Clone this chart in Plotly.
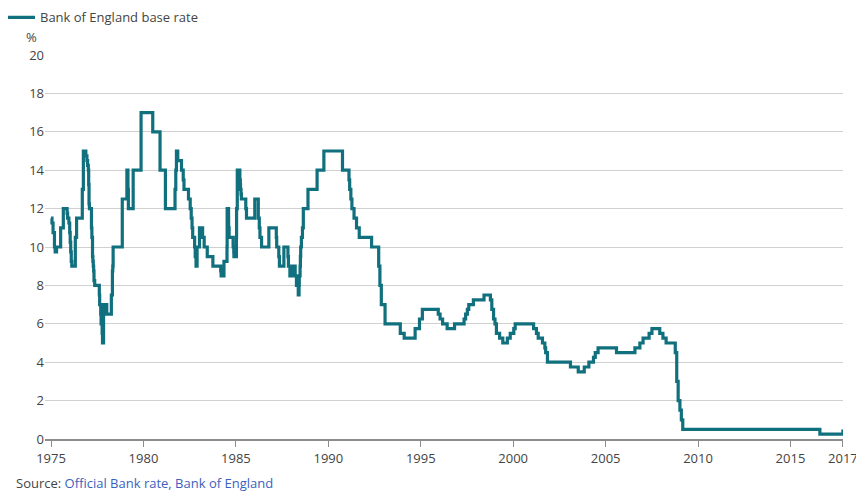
import plotly.graph_objects as go

# Bank of England base rate, change dates and new rate (%)
change_dates = [
    "1975-01-01", "1975-01-20", "1975-02-10", "1975-03-10", "1975-03-24", "1975-04-20",
    "1975-07-10", "1975-09-01", "1975-11-15", "1975-11-25", "1975-12-20", "1976-01-05",
    "1976-01-15", "1976-01-25", "1976-02-05", "1976-02-15", "1976-04-25", "1976-05-20",
    "1976-09-10", "1976-10-01", "1976-11-19", "1976-12-10", "1976-12-24", "1977-01-07",
    "1977-01-14", "1977-01-21", "1977-01-28", "1977-03-10", "1977-03-18", "1977-03-31",
    "1977-04-07", "1977-04-15", "1977-04-22", "1977-04-29", "1977-05-13", "1977-08-12",
    "1977-08-19", "1977-09-09", "1977-09-16", "1977-10-07", "1977-10-14", "1977-11-04",
    "1978-01-06", "1978-04-07", "1978-04-28", "1978-05-05", "1978-05-12", "1978-11-09",
    "1979-02-08", "1979-03-01", "1979-03-09", "1979-06-12", "1979-11-15", "1980-07-03",
    "1980-11-24", "1981-03-10", "1981-09-16", "1981-10-01", "1981-10-14", "1981-11-09",
    "1982-01-22", "1982-02-25", "1982-03-12", "1982-06-09", "1982-07-13", "1982-08-02",
    "1982-08-18", "1982-08-31", "1982-10-08", "1982-10-20", "1982-11-05", "1982-11-26",
    "1983-01-12", "1983-03-15", "1983-04-15", "1983-06-15", "1983-10-04", "1984-03-07",
    "1984-03-15", "1984-05-10", "1984-07-09", "1984-07-12", "1984-08-09", "1984-08-10",
    "1984-08-20", "1984-11-07", "1984-11-20", "1984-11-23", "1985-01-11", "1985-01-14",
    "1985-01-28", "1985-03-20", "1985-03-29", "1985-04-02", "1985-04-12", "1985-04-19",
    "1985-07-15", "1985-07-29", "1986-01-09", "1986-03-19", "1986-04-08", "1986-04-21",
    "1986-05-23", "1986-10-14", "1987-03-10", "1987-03-18", "1987-04-28", "1987-05-11",
    "1987-08-07", "1987-10-26", "1987-11-05", "1987-12-04", "1988-02-02", "1988-03-17",
    "1988-04-11", "1988-05-17", "1988-06-02", "1988-06-06", "1988-06-22", "1988-06-28",
    "1988-07-04", "1988-07-18", "1988-08-08", "1988-08-25", "1988-11-25", "1989-05-24",
    "1989-10-05", "1990-10-08", "1991-02-13", "1991-02-27", "1991-03-22", "1991-04-12",
    "1991-05-24", "1991-07-12", "1991-09-04", "1992-05-05", "1992-09-22", "1992-10-16",
    "1992-11-13", "1993-01-26", "1993-11-23", "1994-02-08", "1994-09-12", "1994-12-07",
    "1995-02-02", "1995-12-13", "1996-01-18", "1996-03-08", "1996-06-06", "1996-10-30",
    "1997-05-06", "1997-06-06", "1997-07-10", "1997-08-07", "1997-11-06", "1998-06-04",
    "1998-10-08", "1998-11-05", "1998-12-10", "1999-01-07", "1999-02-04", "1999-04-08",
    "1999-06-10", "1999-09-08", "1999-11-04", "2000-01-13", "2000-02-10", "2001-02-08",
    "2001-04-05", "2001-05-10", "2001-08-02", "2001-09-18", "2001-10-04", "2001-11-08",
    "2003-02-06", "2003-07-10", "2003-11-06", "2004-02-05", "2004-05-06", "2004-06-10",
    "2004-08-05", "2005-08-04", "2006-08-03", "2006-11-09", "2007-01-11", "2007-05-10",
    "2007-07-05", "2007-12-06", "2008-02-07", "2008-04-10", "2008-10-08", "2008-11-06",
    "2008-12-04", "2009-01-08", "2009-02-05", "2009-03-05", "2016-08-04", "2017-11-02",
]
base_rate = [
    11.5, 11.25, 10.75, 10.0, 9.75, 10.0,
    11.0, 12.0, 11.75, 11.5, 11.25, 10.75,
    10.25, 9.75, 9.25, 9.0, 10.5, 11.5,
    13.0, 15.0, 14.75, 14.5, 14.25, 14.0,
    13.25, 12.25, 12.0, 11.0, 10.5, 9.5,
    9.25, 9.0, 8.75, 8.25, 8.0, 7.5,
    7.0, 6.5, 6.0, 5.5, 5.0, 7.0,
    6.5, 7.5, 8.75, 9.0, 10.0, 12.5,
    14.0, 13.0, 12.0, 14.0, 17.0, 16.0,
    14.0, 12.0, 13.0, 14.0, 15.0, 14.5,
    14.0, 13.5, 13.0, 12.5, 12.0, 11.5,
    11.0, 10.5, 10.0, 9.5, 9.0, 10.0,
    11.0, 10.5, 10.0, 9.5, 9.0, 8.75,
    8.5, 9.25, 10.0, 12.0, 11.5, 11.0,
    10.5, 10.0, 9.75, 9.5, 10.5, 12.0,
    14.0, 13.5, 13.25, 13.0, 12.75, 12.5,
    12.0, 11.5, 12.5, 11.5, 11.0, 10.5,
    10.0, 11.0, 10.5, 10.0, 9.5, 9.0,
    10.0, 9.5, 9.0, 8.5, 9.0, 8.5,
    8.0, 7.5, 8.0, 8.5, 9.0, 9.5,
    10.0, 10.5, 11.0, 12.0, 13.0, 14.0,
    15.0, 14.0, 13.5, 13.0, 12.5, 12.0,
    11.5, 11.0, 10.5, 10.0, 9.0, 8.0,
    7.0, 6.0, 5.5, 5.25, 5.75, 6.25,
    6.75, 6.5, 6.25, 6.0, 5.75, 6.0,
    6.25, 6.5, 6.75, 7.0, 7.25, 7.5,
    7.25, 6.75, 6.25, 6.0, 5.5, 5.25,
    5.0, 5.25, 5.5, 5.75, 6.0, 5.75,
    5.5, 5.25, 5.0, 4.75, 4.5, 4.0,
    3.75, 3.5, 3.75, 4.0, 4.25, 4.5,
    4.75, 4.5, 4.75, 5.0, 5.25, 5.5,
    5.75, 5.5, 5.25, 5.0, 4.5, 3.0,
    2.0, 1.5, 1.0, 0.5, 0.25, 0.5,
]

tick_dates = ["1975-01-01", "1980-01-01", "1985-01-01", "1990-01-01", "1995-01-01",
              "2000-01-01", "2005-01-01", "2010-01-01", "2015-01-01", "2017-11-02"]
tick_labels = ["1975", "1980", "1985", "1990", "1995", "2000", "2005", "2010", "2015", "2017"]

teal = "#11707e"
text_col = "#444444"

fig = go.Figure()
fig.add_trace(go.Scatter(
    x=change_dates, y=base_rate,
    mode="lines", line=dict(color=teal, width=3.2, shape="hv"),
    name="Bank of England base rate",
))

# the page body adds 8px, so margins are set 8px short on left/top
fig.update_layout(
    width=864, height=495,
    margin=dict(l=37, r=29, t=47, b=64, autoexpand=False),
    plot_bgcolor="white", paper_bgcolor="white",
    font=dict(family="Open Sans", size=13, color=text_col),
    showlegend=True,
    legend=dict(x=-0.0564, y=1.137, xanchor="left", yanchor="top",
                orientation="h", font=dict(size=13, color=text_col),
                bgcolor="rgba(0,0,0,0)"),
)

fig.update_xaxes(
    type="date", range=["1974-09-04", "2017-11-04"],
    tickmode="array", tickvals=tick_dates, ticktext=tick_labels,
    showgrid=False, showline=True, linecolor="#8c8c8c", linewidth=2,
    ticks="outside", ticklen=6, tickcolor="#8c8c8c", tickwidth=1,
    tickfont=dict(size=13, color=text_col), zeroline=False,
)
fig.update_yaxes(
    range=[0, 20], dtick=2, showgrid=True, gridcolor="#d0d0d0", gridwidth=1,
    zeroline=False, showline=False, ticks="",
    tickfont=dict(size=13, color=text_col),
)

# unit label above the axis
fig.add_annotation(x=-0.0075, y=1.0, xref="paper", yref="paper", text="%",
                   showarrow=False, xanchor="right", yanchor="bottom", yshift=7,
                   font=dict(size=13, color=text_col))

# source line
fig.add_annotation(x=-0.039, y=-0.085, xref="paper", yref="paper",
                   text="Source: <span style='color:#3b5fc0'>Official Bank rate, Bank of England</span>",
                   showarrow=False, xanchor="left", yanchor="top",
                   font=dict(size=13, color=text_col))

fig.write_html("out.html")
